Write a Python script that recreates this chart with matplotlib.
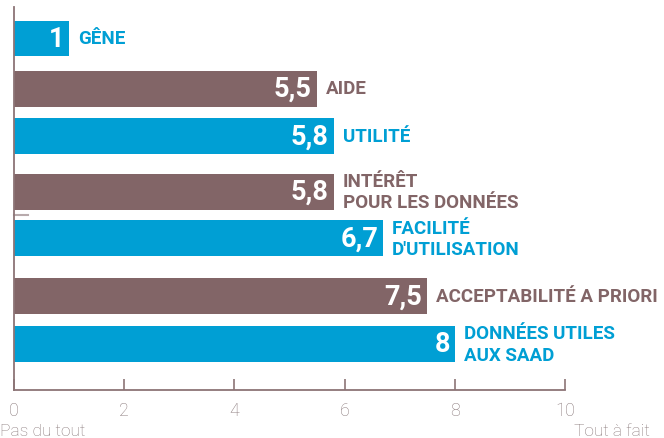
import matplotlib.pyplot as plt

labels = ["GÊNE", "AIDE", "UTILITÉ", "INTÉRÊT\nPOUR LES DONNÉES", "FACILITÉ\nD'UTILISATION",
          "ACCEPTABILITÉ A PRIORI", "DONNÉES UTILES\nAUX SAAD"]
values = [1, 5.5, 5.8, 5.8, 6.7, 7.5, 8]
value_text = ["1", "5,5", "5,8", "5,8", "6,7", "7,5", "8"]
ticks = [0, 2, 4, 6, 8, 10]
end_labels = ["Pas du tout", "Tout à fait"]

blue = "#009fd4"
brown = "#826567"
axis_col = "#8c7476"
grey_txt = "#8b7b7d"
colors = [blue if i % 2 == 0 else brown for i in range(len(values))]

# row spacing (pixels) -- reference rows are not evenly spaced
row_gaps = [0, 50, 47.5, 55.5, 47, 58, 47.5]
rows = []
y = 39.5
for g in row_gaps:
    y += g
    rows.append(y)

plt.rcParams['font.family'] = ['Roboto', 'DejaVu Sans']

W, H = 664, 439
fig = plt.figure(figsize=(W / 100, H / 100), dpi=100)
x0, x1, ytop, ybot = 14, 565, 8, 391
ax = fig.add_axes([x0 / W, 1 - ybot / H, (x1 - x0) / W, (ybot - ytop) / H])
ax.set_xlim(0, 10)
ax.set_ylim(ybot, ytop)

ax.barh(rows, values, height=36, color=colors)

for yy, v, t, lab, c in zip(rows, values, value_text, labels, colors):
    ax.annotate(t, (v, yy), xytext=(-5, 0), textcoords="offset pixels",
                ha="right", va="center", color="white", fontsize=19.5, fontweight="bold")
    ax.annotate(lab, (v, yy), xytext=(9, 0), textcoords="offset pixels",
                ha="left", va="center", color=c, fontsize=13.5, fontweight="bold",
                linespacing=1.25)

for s in ["top", "right"]:
    ax.spines[s].set_visible(False)
for s in ["left", "bottom"]:
    ax.spines[s].set_color(axis_col)
    ax.spines[s].set_linewidth(1.3)

ax.set_yticks([])
ax.set_xticks(ticks)
ax.set_xticklabels([str(t) for t in ticks])
ax.tick_params(axis="x", direction="in", length=8, width=1.2, color=axis_col,
               labelcolor=grey_txt, labelsize=13, pad=8)
for lbl in ax.get_xticklabels():
    lbl.set_fontweight("light")

# small stray mark on the left axis in the reference
ax.plot([0, 0.25], [216, 216], color="#b8aaac", lw=1.5, clip_on=False)

fig.text(0 / W, 1 - 432 / H, end_labels[0], ha="left", va="center",
         color=grey_txt, fontsize=12.5, fontweight="light")
fig.text(650 / W, 1 - 432 / H, end_labels[1], ha="right", va="center",
         color=grey_txt, fontsize=12.5, fontweight="light")

fig.savefig("out.png", dpi=100)
